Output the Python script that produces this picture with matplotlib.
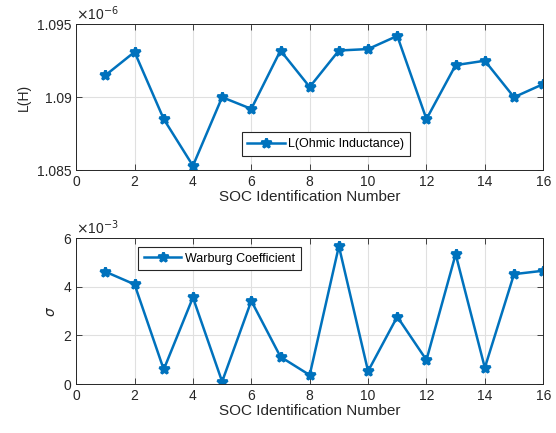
import matplotlib.pyplot as plt

plt.rcParams['font.family'] = ['Liberation Sans', 'DejaVu Sans']

soc = [1, 2, 3, 4, 5, 6, 7, 8, 9, 10, 11, 12, 13, 14, 15, 16]

# inductancia ohmica (x 1e-6 H)
indutancia = [1.0915, 1.0931, 1.0885, 1.0853, 1.0900, 1.0892, 1.0932, 1.0907,
              1.0932, 1.0933, 1.0942, 1.0885, 1.0922, 1.0925, 1.0900, 1.0909]

# coeficiente de Warburg (x 1e-3)
warburg = [4.62, 4.10, 0.60, 3.56, 0.10, 3.42, 1.12, 0.37,
           5.67, 0.53, 2.77, 0.99, 5.34, 0.67, 4.52, 4.66]

azul = '#0072BD'
cinza = '#262626'


def estilo_eixo(ax):
    ax.set_xlim(0, 16)
    ax.set_xticks(range(0, 17, 2))
    ax.grid(True, color='#e0e0e0', linewidth=0.8)
    ax.set_axisbelow(True)
    ax.tick_params(direction='in', top=True, right=True, labelsize=10,
                   colors=cinza, length=4, width=0.6)
    for s in ax.spines.values():
        s.set_color(cinza)
        s.set_linewidth(0.7)
    ax.set_xlabel('SOC Identification Number', fontsize=11, color=cinza, labelpad=1)


def legenda(ax, loc, ancora):
    leg = ax.legend(loc=loc, bbox_to_anchor=ancora, fontsize=9,
                    fancybox=False, edgecolor=cinza, framealpha=1, handlelength=3,
                    borderpad=0.45, handletextpad=0.3, borderaxespad=0)
    leg.get_frame().set_linewidth(0.8)


fig = plt.figure(figsize=(5.56, 4.33), dpi=100)

ax1 = fig.add_axes([0.137, 0.607, 0.840, 0.337])
ax1.plot(soc, indutancia, '-*', color=azul, linewidth=1.8, markersize=7,
         markeredgewidth=2, label='L(Ohmic Inductance)')
estilo_eixo(ax1)
ax1.set_ylim(1.085, 1.095)
ax1.set_yticks([1.085, 1.09, 1.095])
ax1.set_yticklabels(['1.085', '1.09', '1.095'])
ax1.set_ylabel('L(H)', fontsize=10, color=cinza)
ax1.text(0.0, 1.01, r'$\times$10$^{-6}$', transform=ax1.transAxes, fontsize=10,
         color=cinza, va='bottom', ha='left')
legenda(ax1, 'lower left', (0.354, 0.10))

ax2 = fig.add_axes([0.137, 0.113, 0.840, 0.337])
ax2.plot(soc, warburg, '-*', color=azul, linewidth=1.8, markersize=7,
         markeredgewidth=2, label='Warburg Coefficient')
estilo_eixo(ax2)
ax2.set_ylim(0, 6)
ax2.set_yticks([0, 2, 4, 6])
ax2.set_ylabel(r'$\sigma$', fontsize=10, color=cinza)
ax2.text(0.0, 1.01, r'$\times$10$^{-3}$', transform=ax2.transAxes, fontsize=10,
         color=cinza, va='bottom', ha='left')
legenda(ax2, 'upper left', (0.133, 0.94))

fig.savefig('out.png', dpi=100)
